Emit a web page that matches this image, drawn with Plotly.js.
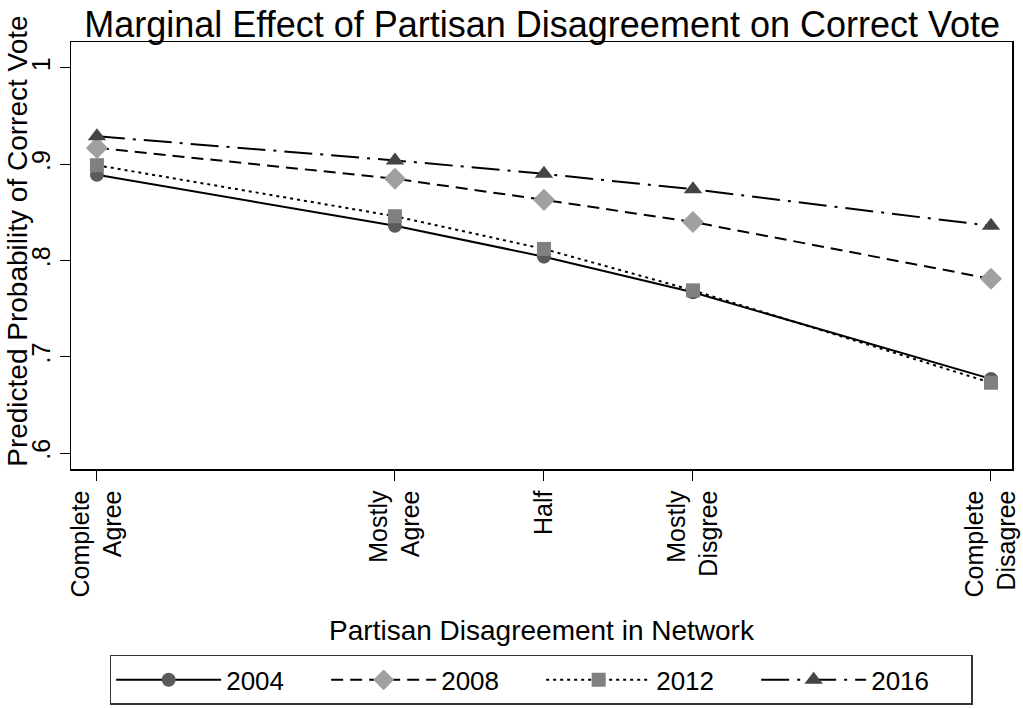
<!DOCTYPE html>
<html>
<head>
<meta charset="utf-8">
<script src="https://cdn.plot.ly/plotly-3.0.1.min.js"></script>
<style>html,body{margin:0;padding:0;background:#fff;}#chart{width:1023px;height:708px;}</style>
</head>
<body>
<div id="chart"></div>
<script>
const xPositions = [0, 1/3, 1/2, 2/3, 1];
const xTickLabels = ["Complete<br>Agree", "Mostly<br>Agree", "Half", "Mostly<br>Disgree", "Complete<br>Disagree"];
const y2004 = [0.889, 0.836, 0.804, 0.767, 0.677];
const y2008 = [0.917, 0.885, 0.863, 0.840, 0.781];
const y2012 = [0.899, 0.846, 0.812, 0.769, 0.673];
const y2016 = [0.929, 0.904, 0.890, 0.874, 0.836];
const yTickVals = [0.6, 0.7, 0.8, 0.9, 1];
const yTickText = [".6", ".7", ".8", ".9", "1"];
const yTitle = "Predicted Probability of Correct Vote";

const FONT = "Liberation Sans, Arial, Helvetica, sans-serif";

function tr(name, y, dash, symbol, color, size) {
  return {
    x: xPositions, y: y, name: name, type: "scatter", mode: "lines+markers",
    line: {color: "#000", width: 2, dash: dash},
    marker: {symbol: symbol, color: color, size: size, line: {width: 0}}
  };
}
const data = [
  tr("2004", y2004, "solid", "circle", "#5a5a5a", 14),
  tr("2008", y2008, "12px,7px", "diamond", "#a0a0a0", 17),
  tr("2012", y2012, "3px,4px", "square", "#808080", 14),
  tr("2016", y2016, "28px,8px,3px,8px", "triangle-up", "#444444", 16)
];

const layout = {
  width: 1023, height: 708,
  margin: {l: 71, r: 11, t: 42, b: 239},
  paper_bgcolor: "#fff", plot_bgcolor: "#fff",
  font: {family: FONT, color: "#000", size: 25},
  title: {text: "Marginal Effect of Partisan Disagreement on Correct Vote", font: {size: 36, family: FONT, color: "#000"}, x: 0.53, xanchor: "center", y: 0.966, yanchor: "middle"},
  xaxis: {
    range: [-0.029, 1.0235], tickvals: xPositions, ticktext: xTickLabels, tickangle: -90,
    ticks: "outside", ticklen: 10, tickwidth: 1, tickcolor: "#000",
    showgrid: false, zeroline: false, showline: true, linecolor: "#000", linewidth: 1.5, mirror: true,
    tickfont: {size: 25, family: FONT},
    title: {text: "Partisan Disagreement in Network", font: {size: 28, family: FONT}, standoff: 24}
  },
  yaxis: {
    range: [0.5834, 1.027], tickvals: yTickVals, ticktext: yTickText, tickangle: -90,
    ticks: "outside", ticklen: 10, tickwidth: 1, tickcolor: "#000",
    showgrid: false, zeroline: false, showline: true, linecolor: "#000", linewidth: 1.5, mirror: true,
    tickfont: {size: 25, family: FONT}
  },
  annotations: [{
    text: yTitle, textangle: -90, xref: "paper", yref: "paper",
    x: -0.057, y: 0.533, xanchor: "center", yanchor: "middle", showarrow: false,
    font: {size: 28, family: FONT, color: "#000"}
  }],
  showlegend: true,
  legend: {
    orientation: "h", xref: "container", yref: "container",
    x: 0.529, xanchor: "center", y: 0.075, yanchor: "top",
    bordercolor: "#333", borderwidth: 1.5, bgcolor: "#fff",
    font: {size: 26, family: FONT}, itemwidth: 105, entrywidth: 95, traceorder: "normal"
  }
};

Plotly.newPlot("chart", data, layout, {displayModeBar: false, staticPlot: true});
</script>
</body>
</html>
